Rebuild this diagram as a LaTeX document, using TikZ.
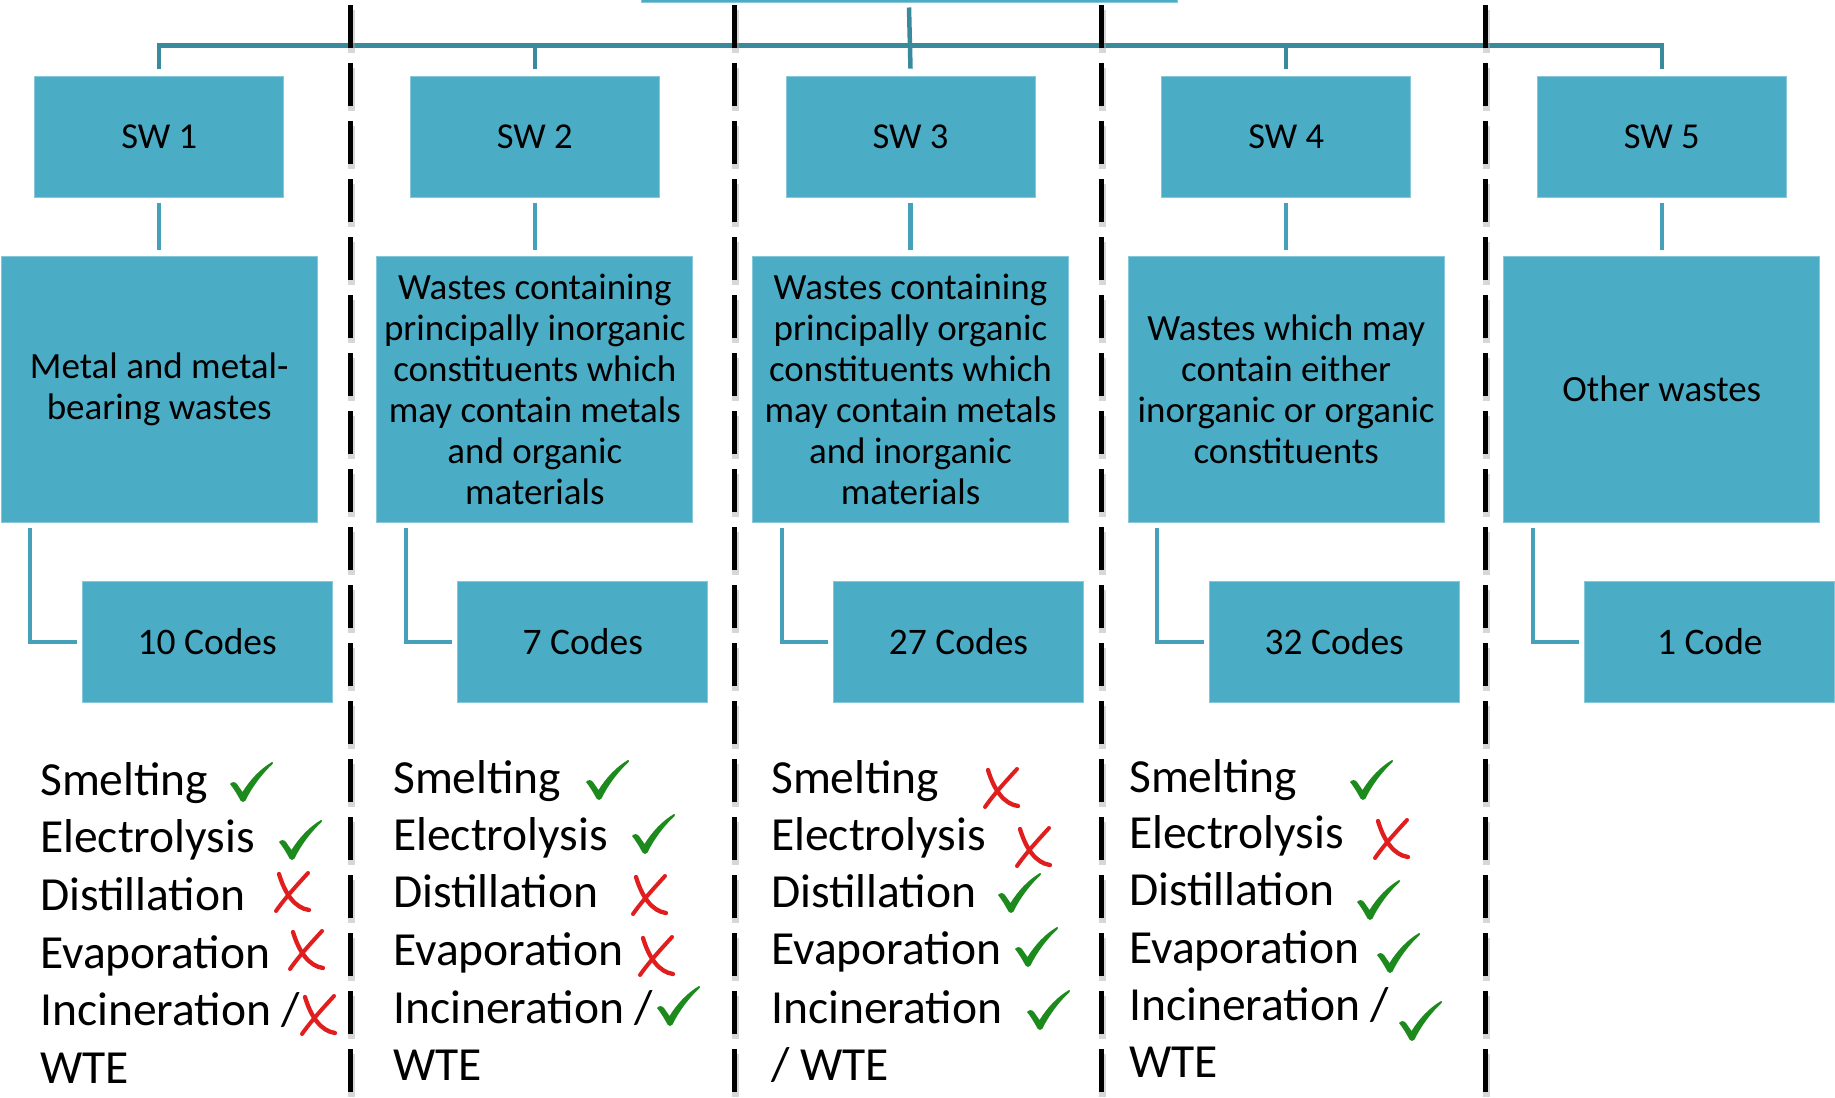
\documentclass[tikz,border=0pt]{standalone}
\usepackage{fontspec}
\setmainfont{Carlito}
\definecolor{boxc}{HTML}{4BACC6}
\definecolor{boxedge}{HTML}{86C8DA}
\definecolor{treec}{HTML}{3A8A9E}
\definecolor{linkc}{HTML}{46A0BA}
\definecolor{okc}{HTML}{1C8A1C}
\definecolor{noc}{HTML}{E01E1E}
\begin{document}
\begin{tikzpicture}[x=1pt,y=-1pt,
  boxfill/.style={fill=boxc, draw=boxedge, line width=0.8pt, inner sep=0pt, text=black},
  swbox/.style={boxfill, minimum width=249pt, minimum height=121pt, font=\fontsize{36.5}{41}\selectfont},
  descbox/.style={boxfill, minimum width=316pt, minimum height=266pt, align=center, font=\fontsize{37}{41}\selectfont},
  codebox/.style={boxfill, minimum width=250pt, minimum height=121pt, font=\fontsize{37.5}{41}\selectfont},
  tree/.style={draw=treec, line width=4.5pt},
  link/.style={draw=linkc, line width=4.2pt},
  listtxt/.style={anchor=base west, inner sep=0pt, font=\fontsize{47.5}{55}\selectfont},
  separator/.style={draw=black, line width=5pt, dash pattern=on 43pt off 15pt},
  sepshadow/.style={draw=black!35, line width=7pt, opacity=0.45, dash pattern=on 43pt off 15pt},
  chk/.pic={
    \fill[okc] (0,22) .. controls (2,19.5) and (5,19.5) .. (7,22) -- (12.5,30)
      .. controls (20,18) and (30,7) .. (42,0) .. controls (43,0) and (43.5,1) .. (42.5,2)
      .. controls (32,12) and (22,25) .. (15.5,38.5) .. controls (14.5,40.5) and (11.5,40.5) .. (10.5,38.5)
      .. controls (7,32) and (4,27) .. (0,22) -- cycle;
  },
  crs/.pic={
    \draw[noc, line width=4pt, line cap=round] (35,1) .. controls (25,12) and (12,26) .. (3,39);
    \draw[noc, line width=4.3pt, line cap=round] (6,2) .. controls (12,22) and (22,36) .. (36,38);
  }
]
\useasboundingbox (0,0) rectangle (1835,1097);

% parent box, only its lower edge lies inside the page
\node[boxfill, minimum width=536pt, minimum height=12pt, anchor=south] (top) at (909,2.5) {};

% category boxes
\node[swbox] (sw1) at (159.2,136.5) {SW 1};
\node[swbox] (sw2) at (534.8,136.5) {SW 2};
\node[swbox] (sw3) at (910.5,136.5) {SW 3};
\node[swbox] (sw4) at (1286.2,136.5) {SW 4};
\node[swbox] (sw5) at (1661.8,136.5) {SW 5};

% descriptions
\node[descbox] (d1) at (159.2,389) {Metal and metal-\\bearing wastes};
\node[descbox] (d2) at (534.8,389) {Wastes containing\\principally inorganic\\constituents which\\may contain metals\\and organic\\materials};
\node[descbox] (d3) at (910.5,389) {Wastes containing\\principally organic\\constituents which\\may contain metals\\and inorganic\\materials};
\node[descbox] (d4) at (1286.2,389) {Wastes which may\\contain either\\inorganic or organic\\constituents};
\node[descbox] (d5) at (1661.8,389) {Other wastes};

% code counts
\node[codebox] (c1) at (207.2,642) {10 Codes};
\node[codebox] (c2) at (582.8,642) {7 Codes};
\node[codebox] (c3) at (958.5,642) {27 Codes};
\node[codebox] (c4) at (1334.2,642) {32 Codes};
\node[codebox] (c5) at (1709.8,642) {1 Code};

% tree connectors
\coordinate (bar) at (910,45.5);
\draw[tree] ([yshift=7pt]sw1.north) -- (sw1.north |- bar) -- (sw5.north |- bar) -- ([yshift=7pt]sw5.north);
\draw[tree] (sw2.north |- bar) -- ([yshift=7pt]sw2.north);
\draw[tree] (sw4.north |- bar) -- ([yshift=7pt]sw4.north);
\draw[tree] ([yshift=-5pt]top.south) -- ([yshift=7pt]sw3.north);

\foreach \i in {1,...,5}{
  \draw[link] ([yshift=-6pt]sw\i.south) -- ([yshift=6pt]d\i.north);
  \draw[link] ([xshift=29.5pt,yshift=-6pt]d\i.south west) |- ([xshift=-5pt]c\i.west);
}

% column separators
\foreach \x in {350,734,1101,1485}{
  \draw[sepshadow] (\x+1,10) -- (\x+1,1105);
  \draw[separator] (\x,5) -- (\x,1100);
}

% treatment lists
\node[listtxt] (a1) at (40,795) {Smelting};
\node[listtxt] (a2) at (40,852) {Electrolysis};
\node[listtxt] (a3) at (40,910) {Distillation};
\node[listtxt] (a4) at (40,968) {Evaporation};
\node[listtxt] (a5) at (40,1025) {Incineration /};
\node[listtxt] (a6) at (40,1083) {WTE};
\pic at (230,762) {chk};
\pic at (279,820) {chk};
\pic at (273,872) {crs};
\pic at (287,930) {crs};
\pic at (299,995) {crs};

\node[listtxt] (b1) at (393,793) {Smelting};
\node[listtxt] (b2) at (393,850) {Electrolysis};
\node[listtxt] (b3) at (393,907) {Distillation};
\node[listtxt] (b4) at (393,965) {Evaporation};
\node[listtxt] (b5) at (393,1023) {Incineration /};
\node[listtxt] (b6) at (393,1080) {WTE};
\pic at (586,760) {chk};
\pic at (632,814) {chk};
\pic at (630,875) {crs};
\pic at (637,936) {crs};
\pic at (657,986) {chk};

\node[listtxt] (e1) at (771,793) {Smelting};
\node[listtxt] (e2) at (771,850) {Electrolysis};
\node[listtxt] (e3) at (771,907) {Distillation};
\node[listtxt] (e4) at (771,964) {Evaporation};
\node[listtxt] (e5) at (771,1023) {Incineration};
\node[listtxt] (e6) at (771,1080) {/ WTE};
\pic at (982,768) {crs};
\pic at (1014,827) {crs};
\pic at (998,873) {chk};
\pic at (1015,927) {chk};
\pic at (1027,990) {chk};

\node[listtxt] (f1) at (1129,792) {Smelting};
\node[listtxt] (f2) at (1129,848) {Electrolysis};
\node[listtxt] (f3) at (1129,905) {Distillation};
\node[listtxt] (f4) at (1129,963) {Evaporation};
\node[listtxt] (f5) at (1129,1020) {Incineration /};
\node[listtxt] (f6) at (1129,1077) {WTE};
\pic at (1350,760) {chk};
\pic at (1372,819) {crs};
\pic at (1357,880) {chk};
\pic at (1377,933) {chk};
\pic at (1399,1001) {chk};
\end{tikzpicture}
\end{document}
